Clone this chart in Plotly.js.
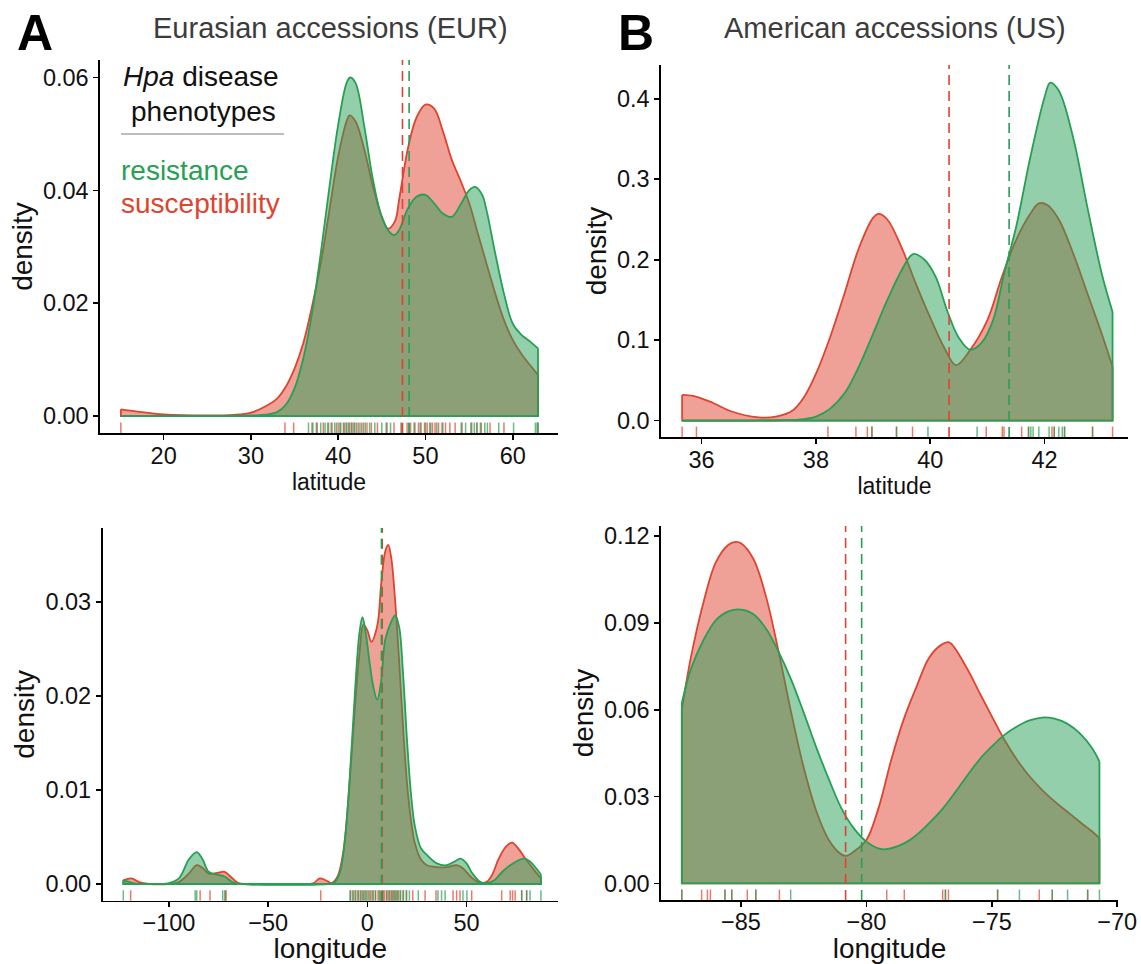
<!DOCTYPE html>
<html><head><meta charset="utf-8">
<script src="https://cdn.plot.ly/plotly-3.0.1.min.js"></script>
<style>html,body{margin:0;padding:0;background:#fff}</style>
</head><body><div id="chart" style="width:1141px;height:964px"></div>
<script>
// ---------------- DATA ----------------
const groups = ['resistance', 'susceptibility'];
const panelTitles = ['Eurasian accessions (EUR)', 'American accessions (US)'];
const panelLetters = ['A', 'B'];

// EUR latitude density
const eurLatSusX = [15.1,17,20,25,28,30,32,33,34,35,36,37,38,39,40,41,41.3,42,43,44,45,45.7,46.5,47,48,49,50,51,52,53,54,55,56,57,58,59,60,61,62,62.9];
const eurLatSusY = [0.0012,0.0008,0.0003,0.0001,0.0002,0.0006,0.0020,0.0031,0.0052,0.0084,0.0129,0.0194,0.0270,0.0365,0.0460,0.0524,0.0533,0.0522,0.0472,0.0406,0.0353,0.0332,0.0345,0.0385,0.0475,0.0530,0.0552,0.0545,0.0505,0.0455,0.0418,0.0378,0.0324,0.0270,0.0217,0.0170,0.0135,0.0110,0.0090,0.0073];
const eurLatResX = [15.1,20,25,30,32,33,34,35,36,37,38,39,40,41,41.4,42,43,44,45,46,46.5,47,48,49,50,51,52,53,54,55,55.7,56.5,57,58,59,60,61,62,62.9];
const eurLatResY = [0,0,0,0.0001,0.0003,0.0007,0.0020,0.0049,0.0102,0.0182,0.0288,0.0406,0.0516,0.0592,0.0600,0.0590,0.0513,0.0418,0.0353,0.0324,0.0321,0.0330,0.0368,0.0389,0.0392,0.0377,0.0359,0.0353,0.0374,0.0400,0.0406,0.0392,0.0365,0.0288,0.0217,0.0164,0.0144,0.0132,0.0120];
const eurLatRugSus = [15.1,33.9,34.9,37.0,37.6,38.3,38.9,39.3,39.8,40.2,40.6,40.9,41.2,41.5,41.8,42.1,42.5,42.9,43.3,43.8,44.5,45.6,46.4,47.2,47.9,48.3,48.8,49.2,49.5,49.9,50.2,50.5,50.8,51.1,51.5,51.9,52.3,52.8,53.4,54.2,55.3,55.9,56.4,57.4,59.0,62.9];
const eurLatRugRes = [36.6,37.1,37.5,38.0,38.5,38.8,39.2,39.6,40.0,40.3,40.7,41.0,41.3,41.6,41.9,42.3,42.7,43.1,43.6,44.2,45.0,45.5,46.0,47.3,48.1,48.7,49.4,50.0,50.6,51.3,52.0,54.1,54.6,55.2,55.6,55.9,56.3,56.8,57.1,58.4,60.1,62.6,62.8,62.9];
const eurLatMeans = [48.13, 47.37]; // resistance, susceptibility

// US latitude density
const usLatSusX = [35.66,35.9,36.2,36.5,37,37.3,37.6,37.8,38,38.25,38.5,38.75,39,39.1,39.25,39.5,39.75,40,40.25,40.45,40.7,41,41.25,41.5,41.75,41.9,42.05,42.25,42.5,42.75,43,43.19];
const usLatSusY = [0.032,0.030,0.022,0.012,0.004,0.005,0.013,0.030,0.058,0.104,0.158,0.214,0.252,0.257,0.250,0.215,0.170,0.128,0.090,0.069,0.088,0.125,0.178,0.224,0.257,0.270,0.268,0.250,0.208,0.158,0.108,0.067];
const usLatResX = [35.66,36.5,37.3,37.8,38,38.25,38.5,38.75,39,39.25,39.5,39.7,39.9,40.1,40.3,40.5,40.7,40.9,41.1,41.3,41.5,41.75,42,42.1,42.25,42.5,42.75,43,43.19];
const usLatResY = [0,0,0.0005,0.002,0.005,0.015,0.034,0.067,0.108,0.150,0.187,0.207,0.200,0.178,0.136,0.103,0.088,0.097,0.125,0.185,0.240,0.327,0.402,0.420,0.410,0.352,0.265,0.183,0.135];
const usLatRugSus = [35.66,35.91,38.21,38.70,38.90,38.98,39.41,39.69,40.98,41.26,41.29,41.60,41.72,42.13,42.17,42.35,42.84,43.19];
const usLatRugRes = [38.98,39.41,39.96,40.82,41.72,41.76,41.80,41.90,42.08,42.17,42.25,42.31,42.35,42.84];
const usLatMeans = [41.38, 40.33];

// EUR longitude density
const eurLonSusX = [-123,-119,-115,-110,-100,-95,-90,-86,-83,-80,-75,-72,-69,-65,-60,-30,-27,-24,-21,-18,-15,-12,-9,-6,-4,-2,0,2,5,7,9,10.5,12,14,16,18,20,22,24,27,30,35,40,45,48,52,56,60,63,66,70,73,76,80,84,87.5];
const eurLonSusY = [0.0004,0.0006,0.0002,0,0,0.0002,0.0011,0.0020,0.0017,0.0011,0.0012,0.0013,0.0008,0.0001,0,0,0.0001,0.0006,0.0004,0.0001,0.0008,0.0036,0.0107,0.0196,0.0245,0.0276,0.0270,0.0258,0.0275,0.0320,0.0354,0.0361,0.0348,0.0302,0.0238,0.0167,0.0107,0.0068,0.0043,0.0026,0.0020,0.0018,0.0018,0.0020,0.0017,0.0008,0.0002,0.0002,0.0010,0.0026,0.0040,0.0044,0.0038,0.0026,0.0015,0.0006];
const eurLonResX = [-123,-118,-110,-100,-95,-90,-86,-83,-80,-76,-72,-68,-64,-20,-17,-14,-11,-8,-6,-4,-2.5,-1,1,3,5,7,9,12,14,16,18,20,22,24,27,30,35,40,44,47,50,53,57,60,64,68,72,76,79,82,85,87.5];
const eurLonResY = [0.0004,0.0001,0,0.0001,0.0006,0.0026,0.0034,0.0026,0.0013,0.0010,0.0008,0.0002,0,0,0.0001,0.0011,0.0054,0.0143,0.0213,0.0267,0.0284,0.0270,0.0238,0.0210,0.0196,0.0217,0.0260,0.0279,0.0286,0.0274,0.0224,0.0153,0.0096,0.0061,0.0038,0.0031,0.0022,0.0020,0.0024,0.0027,0.0022,0.0011,0.0002,0.0001,0.0004,0.0013,0.0020,0.0025,0.0027,0.0024,0.0017,0.0010];
const eurLonRugSus = [-119.3,-84.3,-79.3,-71.7,-71.2,-23.5,-8.5,-7,-5.8,-4.5,-3.2,-2,-0.8,0.5,1.8,3,4.2,5.4,6.5,7.6,8.6,9.6,10.5,11.4,12.3,13.2,14.2,15.3,16.5,18,19.8,22.9,29.1,34.6,43.2,45.0,46.7,52.6,67.7,72.0,73.2,74.5,77.8,80.3];
const eurLonRugRes = [-123.0,-86.8,-86.0,-72.9,-71.7,-8.7,-7.5,-6.2,-4.8,-3.6,-2.5,-1.4,-0.2,1.2,2.6,4.0,6.0,8.0,9.8,11.2,12.5,13.6,14.6,15.6,16.8,18.2,19.6,21.2,25.7,35.6,37.4,39.2,48.2,50.2,77.8,80.3,82.0,87.5];
const eurLonMeans = [7.1, 7.5];

// US longitude density
const usLonSusX = [-87.36,-87,-86.5,-86,-85.5,-85.2,-85,-84.5,-84,-83.5,-83,-82.5,-82,-81.5,-81,-80.8,-80.5,-80,-79.5,-79,-78.5,-78,-77.5,-77,-76.7,-76,-75.5,-75,-74.5,-74,-73.5,-73,-72.5,-72,-71.5,-71,-70.71];
const usLonSusY = [0.060,0.078,0.097,0.111,0.117,0.118,0.1175,0.112,0.099,0.080,0.059,0.040,0.025,0.015,0.010,0.0095,0.011,0.015,0.0265,0.043,0.057,0.068,0.078,0.0825,0.0833,0.0744,0.066,0.0577,0.0496,0.0427,0.037,0.0323,0.0283,0.0248,0.0213,0.0179,0.0156];
const usLonResX = [-87.36,-87,-86.5,-86,-85.5,-85,-84.5,-84,-83.5,-83,-82.5,-82,-81.5,-81,-80.5,-80,-79.5,-79.2,-78.5,-78,-77.5,-77,-76.5,-76,-75.5,-75,-74.5,-74,-73.5,-73,-72.5,-72,-71.5,-71,-70.71];
const usLonResY = [0.0623,0.074,0.084,0.091,0.094,0.0946,0.093,0.088,0.080,0.0704,0.059,0.047,0.036,0.026,0.019,0.0144,0.012,0.0118,0.0138,0.0167,0.0208,0.0254,0.031,0.037,0.0427,0.0473,0.0513,0.0542,0.0563,0.0573,0.0569,0.0552,0.0519,0.0467,0.0421];
const usLonRugSus = [-87.36,-86.57,-86.34,-86.22,-85.64,-85.37,-84.75,-84.41,-83.47,-79.19,-78.49,-76.96,-76.85,-76.73,-74.77,-73.11,-72.59,-71.18];
const usLonRugRes = [-87.36,-85.64,-85.37,-84.41,-83.02,-76.85,-74.77,-73.90,-72.59,-71.98,-71.18,-70.71];
const usLonMeans = [-80.19, -80.83];

// ---------------- STYLE ----------------
const RED = [224, 67, 47], GREEN = [39, 159, 85];
const rgba = (c, a) => `rgba(${c[0]},${c[1]},${c[2]},${a})`;
const FONT = 'Liberation Sans, Arial, Helvetica, sans-serif';
const W = 1141, H = 964;
const px = v => v / W, py = v => 1 - v / H;

const panels = [
  {xa:'x',  ya:'y',  sus:[eurLatSusX,eurLatSusY], res:[eurLatResX,eurLatResY], rug:[eurLatRugRes,eurLatRugSus], means:eurLatMeans},
  {xa:'x2', ya:'y2', sus:[usLatSusX,usLatSusY],   res:[usLatResX,usLatResY],   rug:[usLatRugRes,usLatRugSus],   means:usLatMeans},
  {xa:'x3', ya:'y3', sus:[eurLonSusX,eurLonSusY], res:[eurLonResX,eurLonResY], rug:[eurLonRugRes,eurLonRugSus], means:eurLonMeans},
  {xa:'x4', ya:'y4', sus:[usLonSusX,usLonSusY],   res:[usLonResX,usLonResY],   rug:[usLonRugRes,usLonRugSus],   means:usLonMeans}
];

const traces = [];
const shapes = [];
function addDensity(xs, ys, col, xa, ya) {
  traces.push({x: xs, y: ys, type: 'scatter', mode: 'lines', xaxis: xa, yaxis: ya,
    line: {shape: 'spline', smoothing: 1, color: rgba(col, 1), width: 1.8},
    fill: 'tozeroy', fillcolor: rgba(col, 0.5), hoverinfo: 'skip', showlegend: false});
  const n = xs.length - 1;
  traces.push({x: [xs[0], xs[0], xs[n], xs[n]], y: [ys[0], 0, 0, ys[n]], type: 'scatter', mode: 'lines',
    xaxis: xa, yaxis: ya, line: {color: rgba(col, 1), width: 1.8}, hoverinfo: 'skip', showlegend: false});
}
panels.forEach(p => {
  addDensity(p.sus[0], p.sus[1], RED, p.xa, p.ya);
  addDensity(p.res[0], p.res[1], GREEN, p.xa, p.ya);
  const cols = [GREEN, RED];
  [1, 0].forEach(g => {
    p.rug[g].forEach(v => shapes.push({type: 'line', xref: p.xa, yref: p.ya + ' domain', x0: v, x1: v, y0: 0, y1: 0.028,
      line: {color: rgba(cols[g], 0.7), width: 1.5}}));
  });
  [1, 0].forEach(g => {
    shapes.push({type: 'line', xref: p.xa, yref: p.ya + ' domain', x0: p.means[g], x1: p.means[g], y0: 0, y1: 1,
      line: {color: rgba(cols[g], 1), width: 1.6, dash: '10px,6px'}});
  });
});

// legend underline
shapes.push({type: 'line', xref: 'paper', yref: 'paper', x0: px(121), x1: px(284), y0: py(134), y1: py(134),
  line: {color: '#bdbdbd', width: 2}});

const axBase = {showline: true, linecolor: '#000', linewidth: 1.6, ticks: 'outside', ticklen: 5, tickwidth: 1.6,
  tickcolor: '#000', showgrid: false, zeroline: false, fixedrange: true,
  tickfont: {family: FONT, size: 23.5, color: '#111'}};
const ax = (o) => Object.assign({}, axBase, o);
const xt = (t, s, so) => ({text: t, font: {size: s, family: FONT, color: '#111'}, standoff: so});
const yt = (t) => ({text: t, font: {size: 28, family: FONT, color: '#111'}, standoff: 2});

const layout = {
  width: W, height: H, margin: {l: 0, r: 0, t: 0, b: 0}, paper_bgcolor: '#fff', plot_bgcolor: 'rgba(0,0,0,0)',
  font: {family: FONT, color: '#111'}, showlegend: false,
  xaxis:  ax({domain: [px(100), px(558)], range: [12.71, 65.19], tickvals: [20,30,40,50,60], anchor: 'y',
    ticklabelstandoff: -4, title: xt('latitude', 23, 1)}),
  yaxis:  ax({domain: [py(433), py(60)], range: [-0.0030, 0.0631], tickvals: [0,0.02,0.04,0.06], tickformat: '.2f', anchor: 'x',
    title: yt('density')}),
  xaxis2: ax({domain: [px(661), px(1128)], range: [35.29, 43.46], tickvals: [36,38,40,42], anchor: 'y2',
    ticklabelstandoff: -4, title: xt('latitude', 23, 1)}),
  yaxis2: ax({domain: [py(437), py(65)], range: [-0.0203, 0.442], tickvals: [0,0.1,0.2,0.3,0.4], tickformat: '.1f', anchor: 'x2',
    title: yt('density')}),
  xaxis3: ax({domain: [px(102.5), px(558)], range: [-133.5, 96.1], tickvals: [-100,-50,0,50], anchor: 'y3',
    ticklabelstandoff: -5, title: xt('longitude', 28, 6)}),
  yaxis3: ax({domain: [py(900.7), py(528)], range: [-0.00178, 0.0379], tickvals: [0,0.01,0.02,0.03], tickformat: '.2f', anchor: 'x3',
    title: yt('density')}),
  xaxis4: ax({domain: [px(661), px(1118)], range: [-88.19, -69.97], tickvals: [-85,-80,-75,-70], anchor: 'y4',
    ticklabelstandoff: -5, title: xt('longitude', 28, 6)}),
  yaxis4: ax({domain: [py(900), py(526)], range: [-0.00577, 0.1235], tickvals: [0,0.03,0.06,0.09,0.12], tickformat: '.2f', anchor: 'x4',
    title: yt('density')}),
  shapes: shapes,
  annotations: [
    {text: '<b>' + panelLetters[0] + '</b>', x: px(35), y: py(33), xref: 'paper', yref: 'paper', xanchor: 'center', yanchor: 'middle', showarrow: false,
      font: {family: 'Liberation Sans Narrow, Liberation Sans, Arial', size: 50, color: '#000'}},
    {text: '<b>' + panelLetters[1] + '</b>', x: px(636), y: py(33), xref: 'paper', yref: 'paper', xanchor: 'center', yanchor: 'middle', showarrow: false,
      font: {family: 'Liberation Sans Narrow, Liberation Sans, Arial', size: 50, color: '#000'}},
    {text: panelTitles[0], x: px(331), y: py(28), xref: 'paper', yref: 'paper', xanchor: 'center', yanchor: 'middle', showarrow: false,
      font: {family: FONT, size: 29, color: '#3c3c3c'}},
    {text: panelTitles[1], x: px(895), y: py(28), xref: 'paper', yref: 'paper', xanchor: 'center', yanchor: 'middle', showarrow: false,
      font: {family: FONT, size: 29, color: '#3c3c3c'}},
    {text: '<i>Hpa</i> disease', x: px(201), y: py(77), xref: 'paper', yref: 'paper', xanchor: 'center', yanchor: 'middle', showarrow: false,
      font: {family: FONT, size: 28, color: '#111'}},
    {text: 'phenotypes', x: px(203), y: py(111), xref: 'paper', yref: 'paper', xanchor: 'center', yanchor: 'middle', showarrow: false,
      font: {family: FONT, size: 28, color: '#111'}},
    {text: groups[0], x: px(119), y: py(170), xref: 'paper', yref: 'paper', xanchor: 'left', yanchor: 'middle', showarrow: false,
      font: {family: FONT, size: 28, color: rgba(GREEN, 1)}},
    {text: groups[1], x: px(119), y: py(203), xref: 'paper', yref: 'paper', xanchor: 'left', yanchor: 'middle', showarrow: false,
      font: {family: FONT, size: 28, color: rgba(RED, 1)}}
  ]
};

Plotly.newPlot('chart', traces, layout, {staticPlot: true, displayModeBar: false});
</script>
</body></html>
